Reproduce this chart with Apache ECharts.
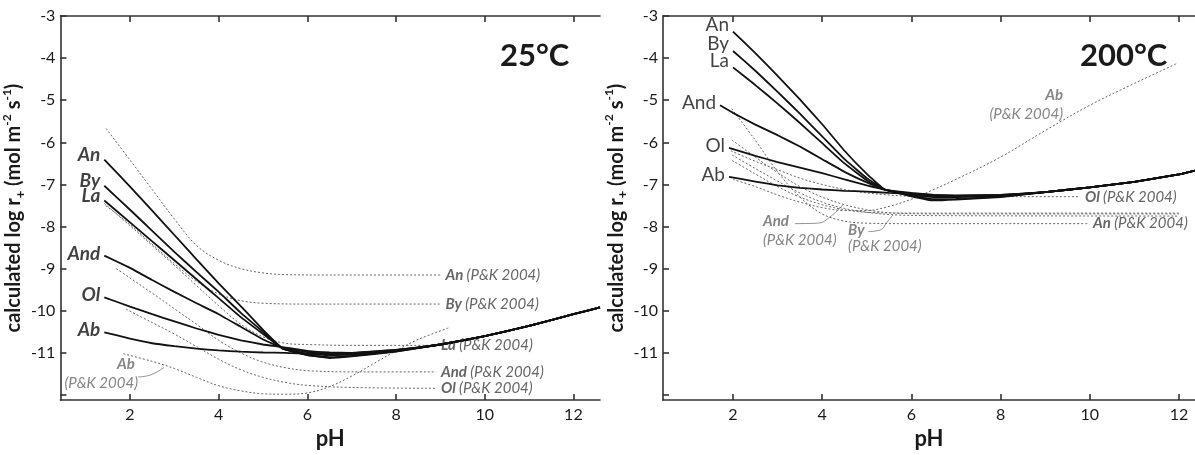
<!DOCTYPE html>
<html>
<head>
<meta charset="utf-8">
<script src="https://cdn.jsdelivr.net/npm/echarts@6/dist/echarts.min.js"></script>
<style>
  body { margin: 0; background: #fff; }
  #chart { width: 1195px; height: 455px; }
</style>
</head>
<body>
<div id="chart"></div>
<script>
// ---- ticks ----
var xTicks = [2, 4, 6, 8, 10, 12];
var yTicks = [-12, -11, -10, -9, -8, -7, -6, -5, -4, -3];
var yLabels = [-11, -10, -9, -8, -7, -6, -5, -4, -3];

// ---- 25 °C, calculated (solid) ----
var tail25 = [[9, -10.8], [10, -10.6], [11, -10.36], [12, -10.08], [12.6, -9.92]];
var an25  = [[1.42, -6.41], [2, -7.05], [2.5, -7.62], [3, -8.2], [3.5, -8.78], [4, -9.35], [4.6, -10.0], [5, -10.45], [5.45, -10.9], [6, -11.05], [6.5, -11.12], [7, -11.08], [8, -10.97]];
var by25  = [[1.42, -7.03], [2, -7.6], [2.5, -8.1], [3, -8.6], [3.5, -9.08], [4, -9.55], [4.5, -10.05], [5, -10.5], [5.45, -10.9], [6, -11.05], [6.5, -11.1], [7, -11.07], [8, -10.96]];
var la25  = [[1.42, -7.38], [2, -7.9], [2.5, -8.35], [3, -8.8], [3.5, -9.25], [4, -9.7], [4.5, -10.15], [5, -10.55], [5.45, -10.9], [6, -11.02], [6.5, -11.05], [7, -11.04], [8, -10.95]];
var and25 = [[1.42, -8.69], [2, -8.98], [2.5, -9.27], [3, -9.55], [3.5, -9.82], [4, -10.08], [4.5, -10.38], [5, -10.68], [5.45, -10.88], [6, -10.98], [6.5, -11.02], [7, -11.02], [8, -10.94]];
var ol25  = [[1.42, -9.68], [2, -9.9], [2.5, -10.08], [3, -10.25], [3.5, -10.42], [4, -10.57], [4.5, -10.7], [5, -10.8], [5.45, -10.86], [6, -10.95], [6.5, -10.99], [7, -11.0], [8, -10.93]];
var ab25  = [[1.42, -10.51], [2, -10.66], [2.5, -10.77], [3, -10.84], [3.5, -10.9], [4, -10.94], [4.5, -10.97], [5, -10.99], [5.5, -11.0], [6, -11.02], [6.5, -11.02], [7, -11.0], [8, -10.93]];

// ---- 25 °C, P&K 2004 (dotted) ----
var pkAn25  = [[1.46, -5.67], [2, -6.42], [2.5, -7.12], [3, -7.82], [3.5, -8.45], [4, -8.8], [4.5, -9.0], [5, -9.1], [5.5, -9.14], [6.5, -9.15], [9.0, -9.15]];
var pkBy25  = [[1.45, -7.5], [2, -7.95], [2.5, -8.42], [3, -8.88], [3.5, -9.3], [4, -9.6], [4.5, -9.76], [5, -9.82], [6, -9.84], [9.0, -9.84]];
var pkLa25  = [[1.42, -7.45], [2, -7.98], [2.5, -8.45], [3, -8.92], [3.5, -9.4], [4, -9.88], [4.5, -10.32], [5, -10.62], [5.5, -10.77], [6, -10.8], [7, -10.82], [8.9, -10.82]];
var pkAnd25 = [[1.69, -9.0], [2, -9.22], [2.5, -9.58], [3, -9.95], [3.5, -10.32], [4, -10.7], [4.5, -11.0], [5, -11.22], [5.5, -11.35], [6, -11.42], [7, -11.45], [8.9, -11.45]];
var pkOl25  = [[1.91, -9.96], [2.5, -10.28], [3, -10.55], [3.5, -10.85], [4, -11.15], [4.5, -11.4], [5, -11.58], [5.5, -11.7], [6, -11.77], [7, -11.82], [8.9, -11.84]];
var pkAb25  = [[1.85, -11.02], [2.5, -11.2], [3, -11.37], [3.5, -11.58], [4, -11.78], [4.5, -11.9], [5, -11.97], [5.5, -11.98], [6, -11.95], [6.5, -11.8], [7, -11.55], [7.5, -11.25], [8, -10.95], [8.5, -10.68], [9.2, -10.4]];

// ---- 200 °C, calculated (solid) ----
var tail200 = [[9, -7.18], [10, -7.07], [11, -6.94], [12, -6.76], [12.4, -6.66]];
var an200  = [[2, -3.37], [2.5, -3.88], [3, -4.42], [3.5, -4.98], [4, -5.57], [4.5, -6.2], [5, -6.75], [5.4, -7.12], [6, -7.28], [6.5, -7.38], [7, -7.36], [8, -7.3]];
var by200  = [[2, -3.83], [2.5, -4.3], [3, -4.8], [3.5, -5.32], [4, -5.86], [4.5, -6.4], [5, -6.85], [5.4, -7.12], [6, -7.27], [6.5, -7.35], [7, -7.34], [8, -7.29]];
var la200  = [[2, -4.22], [2.5, -4.64], [3, -5.08], [3.5, -5.54], [4, -6.02], [4.5, -6.5], [5, -6.9], [5.4, -7.12], [6, -7.25], [6.5, -7.3], [7, -7.3], [8, -7.27]];
var and200 = [[1.71, -5.12], [2, -5.3], [2.5, -5.58], [3, -5.83], [3.5, -6.1], [4, -6.4], [4.5, -6.7], [5, -6.95], [5.4, -7.12], [6, -7.22], [6.5, -7.27], [7, -7.28], [8, -7.26]];
var ol200  = [[1.91, -6.13], [2.5, -6.32], [3, -6.47], [3.5, -6.6], [4, -6.73], [4.5, -6.88], [5, -7.02], [5.4, -7.12], [6, -7.2], [6.5, -7.25], [7, -7.27], [8, -7.25]];
var ab200  = [[1.91, -6.82], [2.5, -6.93], [3, -7.02], [3.5, -7.08], [4, -7.12], [4.5, -7.15], [5, -7.17], [5.5, -7.2], [6, -7.22], [6.5, -7.25], [7, -7.26], [8, -7.25]];

// ---- 200 °C, P&K 2004 (dotted) ----
var pkAn200  = [[1.97, -5.2], [2.5, -5.95], [3, -6.7], [3.5, -7.3], [4, -7.7], [4.5, -7.87], [5, -7.92], [6, -7.93], [9.96, -7.93]];
var pkAnd200 = [[1.98, -5.95], [2.5, -6.35], [3, -6.72], [3.5, -7.05], [4, -7.3], [4.5, -7.48], [5, -7.6], [5.5, -7.67], [6.5, -7.7], [12, -7.7]];
var pkBy200  = [[1.98, -6.3], [2.5, -6.62], [3, -6.92], [3.5, -7.2], [4, -7.42], [4.5, -7.57], [5, -7.66], [5.6, -7.72], [6.5, -7.74], [12, -7.75]];
var pkLa200  = [[1.98, -6.43], [2.5, -6.75], [3, -7.05], [3.5, -7.3], [4, -7.48], [4.5, -7.6], [5, -7.66], [6, -7.68], [12, -7.68]];
var pkOl200  = [[1.95, -6.2], [2.5, -6.45], [3, -6.65], [3.5, -6.85], [4, -7.0], [4.5, -7.12], [5, -7.2], [5.5, -7.25], [6, -7.28], [9.78, -7.29]];
var pkAb200  = [[2.0, -6.88], [2.5, -7.05], [3, -7.25], [3.5, -7.42], [4, -7.55], [4.5, -7.62], [5, -7.62], [5.5, -7.52], [6, -7.35], [6.5, -7.12], [7, -6.88], [8, -6.35], [9, -5.72], [10, -5.12], [11, -4.6], [11.95, -4.13]];

// ---- annotations (P&K labels placed away from line ends, and their leaders) ----
var notes25      = [['Ab', 1.91, -11.27], ['(P&K 2004)', 1.35, -11.71]];
var notes200R    = [['Ab', 9.4, -4.89], ['(P&K 2004)', 9.4, -5.33]];
var notes200L    = [['And', 2.67, -7.88], ['(P&K 2004)', 2.67, -8.32], ['By', 4.58, -8.09], ['(P&K 2004)', 4.58, -8.46]];
var leaderAb25   = [[2.18, -11.57], [2.47, -11.52], [2.77, -11.34]];
var leaderAnd200 = [[3.39, -7.93], [3.88, -7.92], [4.2, -7.75], [4.47, -7.47]];
var leaderBy200  = [[5.03, -8.12], [5.3, -8.08], [5.45, -7.9], [5.59, -7.72]];

var FONT = 'Lato';
var GREY = '#666';
var INK = '#1a1a1a';

var solids25 = [['An', an25], ['By', by25], ['La', la25], ['And', and25], ['Ol', ol25], ['Ab', ab25]];
var solids200 = [['An', an200], ['By', by200], ['La', la200], ['And', and200], ['Ol', ol200], ['Ab', ab200]];
var pk25 = [['An', pkAn25, true], ['By', pkBy25, true], ['La', pkLa25, true], ['And', pkAnd25, true], ['Ol', pkOl25, true], ['Ab', pkAb25, false]];
var pk200 = [['An', pkAn200, true], ['And', pkAnd200, false], ['By', pkBy200, false], ['La', pkLa200, false], ['Ol', pkOl200, true], ['Ab', pkAb200, false]];

var pkRich = {
  m: { fontFamily: FONT, fontSize: 15, fontStyle: 'italic', fontWeight: 'bold', color: GREY },
  p: { fontFamily: FONT, fontSize: 15, fontStyle: 'italic', color: GREY }
};

var series = [];

function addDotted(list, g) {
  list.forEach(function (d) {
    series.push({
      type: 'line', xAxisIndex: g * 2, yAxisIndex: g, data: d[1],
      showSymbol: false, smooth: 0.35, z: 2, silent: true,
      lineStyle: { color: GREY, width: 1, type: [2, 2] },
      endLabel: {
        show: d[2], distance: 5,
        formatter: '{m|' + d[0] + '} {p|(P&K 2004)}', rich: pkRich
      }
    });
  });
}

function addSolid(list, g) {
  list.forEach(function (d) {
    series.push({
      type: 'line', xAxisIndex: g * 2, yAxisIndex: g, data: d[1].concat(g === 0 ? tail25 : tail200),
      showSymbol: false, smooth: 0.1, z: 5, silent: true,
      lineStyle: { color: '#111', width: 1.8 }
    });
  });
  // labels at the start of each solid line
  series.push({
    type: 'scatter', xAxisIndex: g * 2, yAxisIndex: g, symbolSize: 0, z: 6, silent: true,
    data: list.map(function (d, i) {
      return { value: [d[1][0][0], d[1][0][1]], name: d[0],
               label: { offset: [0, (g === 1 && i < 3) ? -7 : (i < 3 ? -5 : -2)] } };
    }),
    label: {
      show: true, position: 'left', distance: 4, formatter: '{b}',
      fontFamily: FONT, fontSize: 19, color: '#111',
      fontWeight: g === 0 ? 'bold' : 'normal', fontStyle: g === 0 ? 'italic' : 'normal'
    }
  });
}

function addNotes(list, g, align) {
  series.push({
    type: 'scatter', xAxisIndex: g * 2, yAxisIndex: g, symbolSize: 0, z: 6, silent: true,
    data: list.map(function (n) { return { value: [n[1], n[2]], name: n[0] }; }),
    label: {
      show: true, position: 'inside', align: align, verticalAlign: 'middle',
      formatter: function (p) { return p.name.charAt(0) === '(' ? '{p|' + p.name + '}' : '{m|' + p.name + '}'; },
      rich: pkRich
    }
  });
}

function addLeader(data, g) {
  series.push({
    type: 'line', xAxisIndex: g * 2, yAxisIndex: g, data: data,
    showSymbol: false, smooth: 0.5, z: 3, silent: true,
    lineStyle: { color: '#777', width: 0.8 }
  });
}

addDotted(pk25, 0);
addDotted(pk200, 1);
addSolid(solids25, 0);
addSolid(solids200, 1);
addNotes(notes25, 0, 'center');
addNotes(notes200R, 1, 'right');
addNotes(notes200L, 1, 'left');
addLeader(leaderAb25, 0);
addLeader(leaderAnd200, 1);
addLeader(leaderBy200, 1);

var axisLine = { show: true, onZero: false, lineStyle: { color: '#333', width: 1.6 } };

function xBottom(g, max) {
  return {
    type: 'value', gridIndex: g, position: 'bottom', min: 0.43, max: max,
    axisLine: axisLine, splitLine: { show: false },
    axisTick: { inside: true, length: 6, customValues: xTicks, lineStyle: { color: '#333', width: 1.6 } },
    axisLabel: { customValues: xTicks, fontFamily: FONT, fontSize: 16, color: INK, margin: 7 },
    name: 'pH', nameLocation: 'middle', nameGap: 20,
    nameTextStyle: { fontFamily: FONT, fontSize: 22, fontWeight: 'bold', color: INK }
  };
}
function xTop(g, max) {
  return {
    type: 'value', gridIndex: g, position: 'top', min: 0.43, max: max,
    axisLine: axisLine, splitLine: { show: false },
    axisTick: { inside: true, length: 6, customValues: xTicks, lineStyle: { color: '#333', width: 1.6 } },
    axisLabel: { show: false }
  };
}
function yLeft(g) {
  return {
    type: 'value', gridIndex: g, min: -12.12, max: -3,
    axisLine: axisLine, splitLine: { show: false },
    axisTick: { inside: true, length: 6, customValues: yTicks, lineStyle: { color: '#333', width: 1.6 } },
    axisLabel: { customValues: yLabels, fontFamily: FONT, fontSize: 16, color: INK, margin: 5 },
    name: '{b|calculated log r}{sub|+}{b| (mol m}{sup|-2}{b| s}{sup|-1}{b|)}',
    nameLocation: 'middle', nameGap: 25,
    nameTextStyle: {
      color: INK,
      rich: {
        b: { fontFamily: FONT, fontSize: 20, fontWeight: 'bold', color: INK, lineHeight: 26 },
        sub: { fontFamily: FONT, fontSize: 13, fontWeight: 'bold', color: INK, verticalAlign: 'bottom', lineHeight: 12 },
        sup: { fontFamily: FONT, fontSize: 12, fontWeight: 'bold', color: INK, verticalAlign: 'top', lineHeight: 14 }
      }
    }
  };
}

var option = {
  animation: false,
  backgroundColor: '#fff',
  grid: [
    { left: 59, top: 16, width: 541, height: 396 },
    { left: 663, top: 16, right: 0, height: 396 }
  ],
  title: [
    { text: '25°C', left: 500, top: 40, padding: 0,
      textStyle: { fontFamily: FONT, fontSize: 31, fontWeight: 'bold', color: INK } },
    { text: '200°C', left: 1080, top: 40, padding: 0,
      textStyle: { fontFamily: FONT, fontSize: 31, fontWeight: 'bold', color: INK } }
  ],
  xAxis: [xBottom(0, 12.6), xTop(0, 12.6), xBottom(1, 12.36), xTop(1, 12.36)],
  yAxis: [yLeft(0), yLeft(1)],
  series: series
};

var chart = echarts.init(document.getElementById('chart'));
chart.setOption(option);
</script>
</body>
</html>
